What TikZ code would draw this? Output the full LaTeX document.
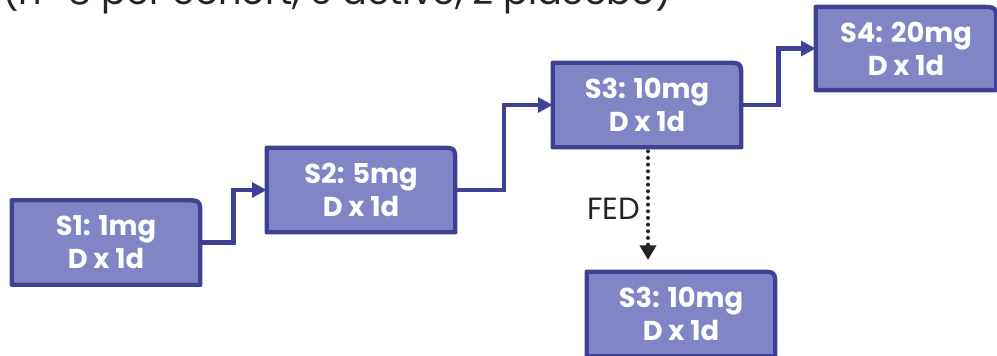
\documentclass[tikz,border=0pt]{standalone}
\usepackage{fontspec}
\setmainfont{Poppins}
\usetikzlibrary{arrows.meta,positioning,calc,backgrounds}
\definecolor{cohortfill}{HTML}{8185C6}
\definecolor{cohortline}{HTML}{3F4194}
\definecolor{inkdark}{HTML}{222426}
\newcommand{\cohortframe}[1]{%
  \draw[frame] (#1.south west) |- ($(#1.north east)+(-12pt,0)$)
    .. controls (#1.north east) .. ($(#1.north east)+(0,-12pt)$)
    -- (#1.south east) -- cycle;}

\begin{document}
\begin{tikzpicture}[x=0.75pt,y=-0.75pt,>={Triangle[length=11pt,width=11pt]},
 cohort/.style={minimum width=141pt,minimum height=63pt,align=center,
 inner sep=0pt,text=white,font=\bfseries\fontsize{20.5}{24.75}\selectfont},
 frame/.style={draw=cohortline,fill=cohortfill,line width=3.3pt,line join=round},
 link/.style={draw=cohortline,line width=3.3pt,->},
 fedlink/.style={draw=inkdark,line width=3pt,line cap=round,
 dash pattern=on 0pt off 5pt,-{Triangle[length=11pt,width=12pt]}}]
\useasboundingbox (0,0) rectangle (997,356);
\node[anchor=base west,font=\fontsize{27.5}{30}\selectfont,text=inkdark,inner sep=0pt]
 (note) at (2,5) {(n=8 per cohort, 6 active, 2 placebo)};
\node[cohort] (s1) at (106,242.5) {S1: 1mg\\D x 1d};
\node[cohort] (s2) at (361,190) {S2: 5mg\\D x 1d};
\node[cohort] (s3) at (647,105) {S3: 10mg\\D x 1d};
\node[cohort,minimum width=135pt,minimum height=62pt] (s4) at (906,48.5) {S4: 20mg\\D x 1d};
\node[cohort] (s3f) at (681,314) {S3: 10mg\\D x 1d};
\begin{scope}[on background layer]
\foreach \n in {s1,s2,s3,s4,s3f} {\cohortframe{\n}}
\end{scope}
% escalation steps
\draw[link] (s1.east) -| ($(s1.east)!.5!(s2.west)$) |- (s2.west);
\draw[link] (s2.east) -| ($(s2.east)!.5!(s3.west)$) |- (s3.west);
\draw[link] (s3.east) -| ($(s3.east)!.5!(s4.west)$) |- (s4.west);
% fed arm
\coordinate (fedtip) at (648,260);
\draw[fedlink] ($(s3.south)+(0.75pt,-3pt)$) -- (fedtip)
 node[pos=.53,left=1pt,text=inkdark,font=\fontsize{23}{26}\selectfont] (fed) {FED};
\end{tikzpicture}
\end{document}
